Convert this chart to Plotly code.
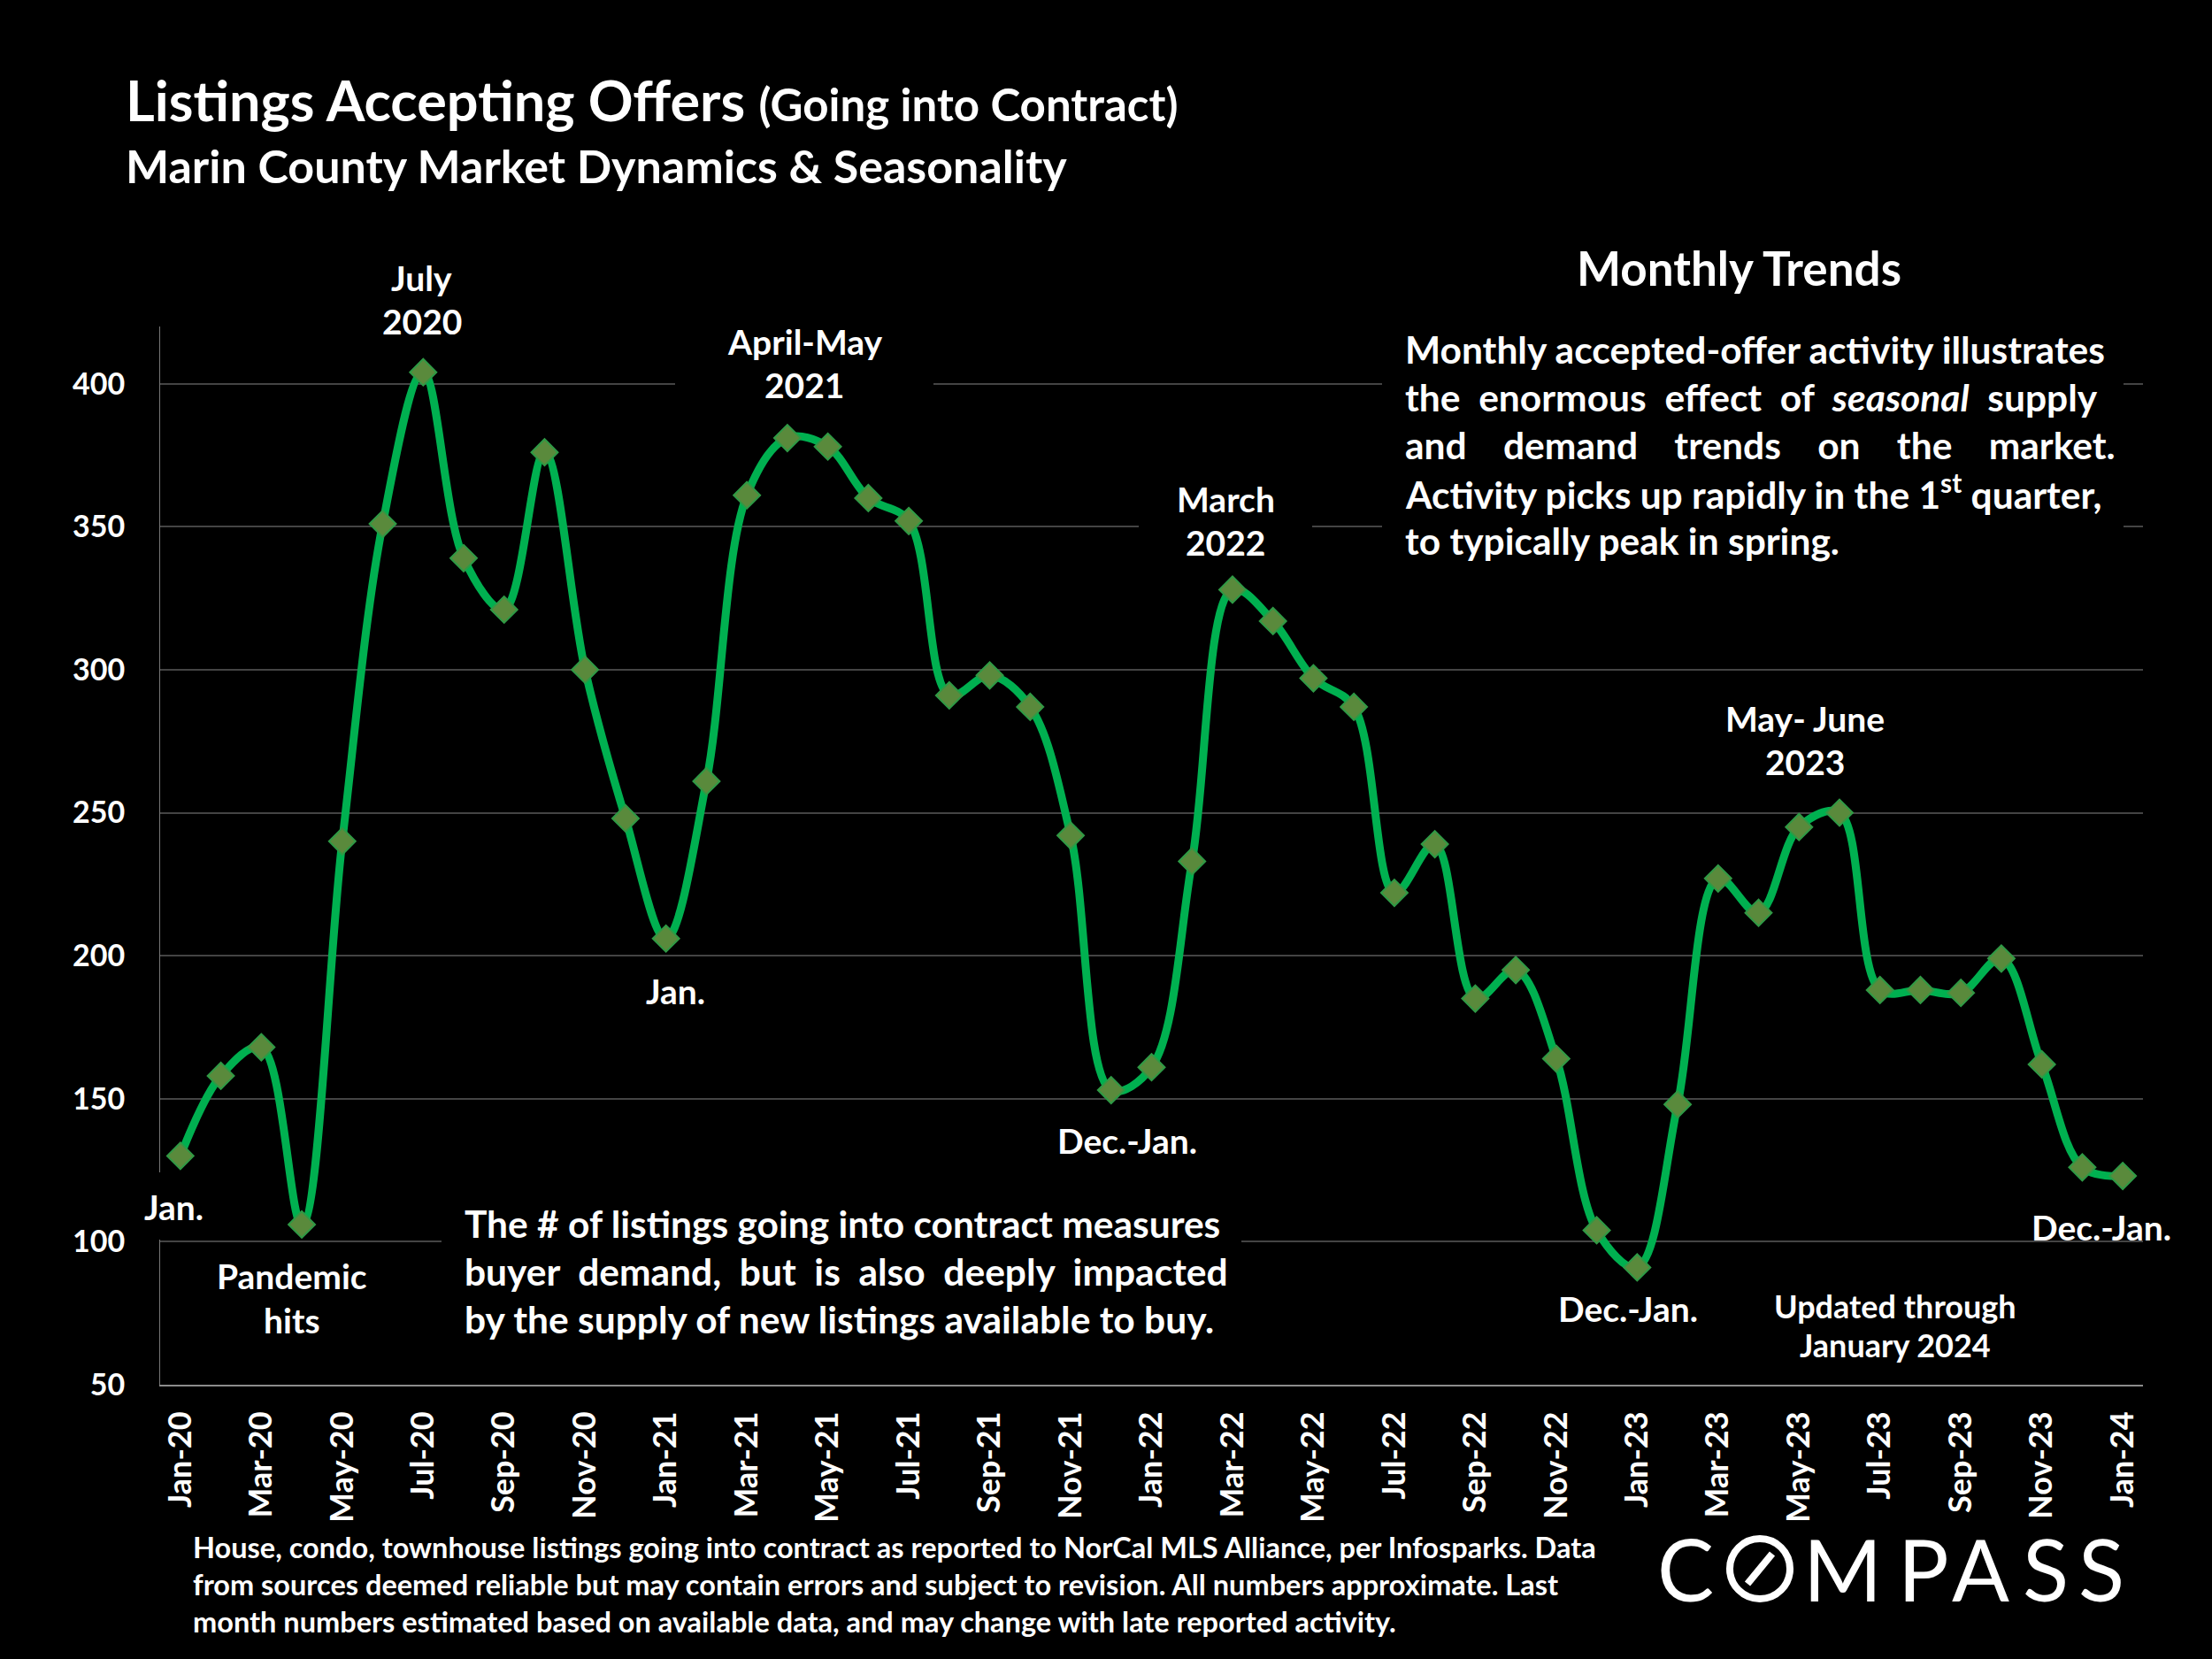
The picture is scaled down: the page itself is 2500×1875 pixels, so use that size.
import plotly.graph_objects as go

months = ["Jan-20","Feb-20","Mar-20","Apr-20","May-20","Jun-20","Jul-20","Aug-20","Sep-20","Oct-20","Nov-20","Dec-20",
          "Jan-21","Feb-21","Mar-21","Apr-21","May-21","Jun-21","Jul-21","Aug-21","Sep-21","Oct-21","Nov-21","Dec-21",
          "Jan-22","Feb-22","Mar-22","Apr-22","May-22","Jun-22","Jul-22","Aug-22","Sep-22","Oct-22","Nov-22","Dec-22",
          "Jan-23","Feb-23","Mar-23","Apr-23","May-23","Jun-23","Jul-23","Aug-23","Sep-23","Oct-23","Nov-23","Dec-23","Jan-24"]
values = [130,158,168,106,240,351,404,339,321,376,300,248,
          206,261,361,381,378,360,352,291,298,287,242,153,
          161,233,328,317,297,287,222,239,185,195,164,104,
          91,148,227,215,245,250,188,188,187,199,162,126,123]
y_ticks = [50,100,150,200,250,300,350,400]

W, H = 2500, 1875
L, R, T, B = 181, 2422, 369, 1565
Y0, Y1 = 50, 420
X0, X1 = -0.5, 48.5
FONT = "Lato"

def fx(p): return (p - L) / (R - L)
def fy(p): return (B - p) / (B - T)
def dx(p): return X0 + (p - L) / (R - L) * (X1 - X0)
def dy(p): return Y1 - (p - T) / (B - T) * (Y1 - Y0)

fig = go.Figure()
fig.add_trace(go.Scatter(
    x=list(range(len(months))), y=values, mode="lines+markers",
    line=dict(color="#00B050", width=9, shape="spline", smoothing=1.0),
    marker=dict(symbol="diamond", size=23, color="#5A8A3C", line=dict(color="#2F9A45", width=2)),
    hoverinfo="skip", showlegend=False,
))

def text(px, py, s, size, anchor="center", yanchor="middle", color="white"):
    fig.add_annotation(x=fx(px), y=fy(py), xref="paper", yref="paper", text=s, showarrow=False,
                       xanchor=anchor, yanchor=yanchor, align=anchor,
                       font=dict(family=FONT, size=size, color=color, weight="bold"))

# masks that interrupt the gridlines behind the text boxes
for x0, x1, y0, y1 in [(763, 1055, 420, 450), (1287, 1483, 585, 610), (1562, 2400, 415, 620), (499, 1403, 1390, 1415)]:
    fig.add_shape(type="rect", xref="x", yref="y", x0=dx(x0), x1=dx(x1), y0=dy(y0), y1=dy(y1),
                  fillcolor="black", line_width=0, layer="between")
fig.add_shape(type="rect", xref="paper", yref="paper", x0=fx(170), x1=fx(190), y0=fy(1325), y1=fy(1401),
              fillcolor="black", line_width=0, layer="above")

# title
text(140, 113, 'Listings Accepting Offers <span style="font-size:51px">(Going into Contract)</span>', 63, "left")
text(140, 187, "Marin County Market Dynamics & Seasonality", 52, "left")

# chart labels
S = 39
for px, py, s in [
    (477, 314, "July"), (477, 363, "2020"),
    (909, 386, "April-May"), (909, 435, "2021"),
    (1385, 564, "March"), (1385, 613, "2022"),
    (763, 1120, "Jan."), (196, 1364, "Jan."),
    (330, 1442, "Pandemic"), (330, 1492, "hits"),
    (1274, 1289, "Dec.-Jan."), (1840, 1479, "Dec.-Jan."), (2375, 1387, "Dec.-Jan."),
    (2040, 812, "May- June"), (2040, 861, "2023"),
]:
    text(px, py, s, S)
text(2142, 1476, "Updated through", 36)
text(2142, 1520, "January 2024", 36)

# text panels
text(1965, 302, "Monthly Trends", 53)
B_S = 42.5
for py, s in [
    (394, "Monthly accepted-offer activity illustrates"),
    (448, "the  enormous  effect  of  <i>seasonal</i>  supply"),
    (502, "and    demand    trends    on    the    market."),
    (556, "Activity picks up rapidly in the 1<sup>st</sup> quarter,"),
    (610, "to typically peak in spring."),
]:
    text(1586, py, s, B_S, "left")
for py, s in [
    (1382, "The # of listings going into contract measures"),
    (1436, "buyer  demand,  but  is  also  deeply  impacted"),
    (1490, "by the supply of new listings available to buy."),
]:
    text(523, py, s, B_S, "left")

# footnote
for py, s in [
    (1748, "House, condo, townhouse listings going into contract as reported to NorCal MLS Alliance, per Infosparks. Data"),
    (1790, "from sources deemed reliable but may contain errors and subject to revision. All numbers approximate. Last"),
    (1832, "month numbers estimated based on available data, and may change with late reported activity."),
]:
    text(216, py, s, 32.5, "left")

# logo
for px, s in [(1905, "C"), (2082, "M"), (2174, "P"), (2238, "A"), (2312, "S"), (2375, "S")]:
    fig.add_annotation(x=fx(px), y=fy(1773), xref="paper", yref="paper", text=s, showarrow=False,
                       xanchor="center", yanchor="middle",
                       font=dict(family=FONT, size=96, color="white", weight="normal"))
fig.add_shape(type="circle", xref="paper", yref="paper", x0=fx(1955), x1=fx(2023), y0=fy(1739), y1=fy(1807),
              line=dict(color="white", width=8), fillcolor="black", layer="above")
fig.add_shape(type="line", xref="paper", yref="paper", x0=fx(1975), x1=fx(2003), y0=fy(1790), y1=fy(1756),
              line=dict(color="white", width=8), layer="above")

fig.update_layout(
    width=W, height=H, autosize=False,
    margin=dict(l=L, r=W - R, t=T, b=H - B, pad=0),
    paper_bgcolor="black", plot_bgcolor="black",
    font=dict(family=FONT, color="white"),
    xaxis=dict(range=[X0, X1], tickmode="array",
               tickvals=list(range(0, len(months), 2)), ticktext=months[::2], tickangle=-90,
               showgrid=False, zeroline=False, showline=True, linecolor="#8c8c8c", linewidth=2, ticks="",
               tickfont=dict(family=FONT, size=36, color="white", weight="bold"), ticklabelstandoff=14),
    yaxis=dict(range=[Y0, Y1], tickmode="array", tickvals=y_ticks,
               showgrid=True, gridcolor="#444444", gridwidth=2, zeroline=False,
               showline=True, linecolor="#777777", linewidth=1, ticks="",
               tickfont=dict(family=FONT, size=34, color="white", weight="bold"), ticklabelstandoff=32),
)
fig.write_html("out.html", config={"displayModeBar": False},
               post_script="document.body.style.margin='0';document.body.style.background='black';")
